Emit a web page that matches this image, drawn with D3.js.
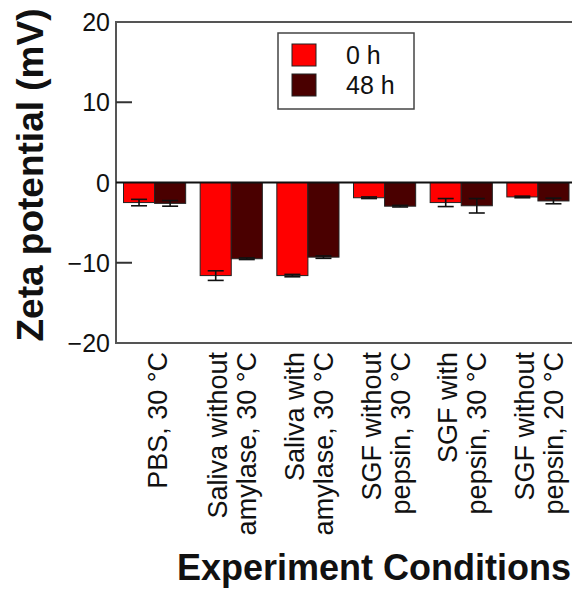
<!DOCTYPE html>
<html>
<head>
<meta charset="utf-8">
<script src="https://cdn.jsdelivr.net/npm/d3@7"></script>
<style>
  body { margin: 0; background: #fff; }
  svg { display: block; font-family: "Liberation Sans", Arial, sans-serif; }
</style>
</head>
<body>
<svg id="chart" width="572" height="589"></svg>
<script>
// data
var categories = [
    ['PBS, 30 °C'],
    ['Saliva without', 'amylase, 30 °C'],
    ['Saliva with', 'amylase, 30 °C'],
    ['SGF without', 'pepsin, 30 °C'],
    ['SGF with', 'pepsin, 30 °C'],
    ['SGF without', 'pepsin, 20 °C']
];
var seriesNames = ['0 h', '48 h'];
var values0h = [-2.5, -11.6, -11.6, -1.9, -2.5, -1.8];
var errors0h = [0.4, 0.6, 0.15, 0.1, 0.5, 0.1];
var values48h = [-2.6, -9.5, -9.3, -2.95, -2.9, -2.3];
var errors48h = [0.35, 0.1, 0.15, 0.1, 0.9, 0.35];
var yTicks = [-20, -10, 0, 10, 20];

var colors = ['#ff0000', '#4a0000'];
var svg = d3.select('#chart');

var plotLeft = 116, plotRight = 576, plotTop = 22, plotBottom = 343;

var rows = categories.map(function(c, i) {
    return {
        key: c.join(' '),
        lines: c,
        bars: [
            { s: seriesNames[0], v: values0h[i], e: errors0h[i] },
            { s: seriesNames[1], v: values48h[i], e: errors48h[i] }
        ]
    };
});

var x0 = d3.scaleBand().domain(rows.map(function(d) { return d.key; })).range([plotLeft, plotRight]);
var x1 = d3.scaleBand().domain(seriesNames).range([7.5, x0.bandwidth() - 7]);
var y = d3.scaleLinear().domain([-20, 20]).range([plotBottom, plotTop]);

// frame (left, top, bottom)
svg.append('path')
    .attr('d', 'M' + plotRight + ',' + plotTop + 'H' + plotLeft + 'V' + plotBottom + 'H' + plotRight)
    .attr('fill', 'none').attr('stroke', '#555').attr('stroke-width', 2);

// inward ticks
svg.selectAll('.tick').data([-10, 10]).enter().append('line')
    .attr('x1', plotLeft).attr('x2', plotLeft + 16)
    .attr('y1', function(d) { return y(d); }).attr('y2', function(d) { return y(d); })
    .attr('stroke', '#333').attr('stroke-width', 2);

svg.selectAll('.ylab').data(yTicks).enter().append('text')
    .attr('x', 110).attr('y', function(d) { return y(d); })
    .attr('dy', '0.36em').attr('text-anchor', 'end')
    .attr('font-size', 25).attr('fill', '#111')
    .text(function(d) { return d < 0 ? '\u2212' + Math.abs(d) : d; });

// bars
var groups = svg.selectAll('.grp').data(rows).enter().append('g')
    .attr('transform', function(d) { return 'translate(' + x0(d.key) + ',0)'; });

groups.selectAll('rect').data(function(d) { return d.bars; }).enter().append('rect')
    .attr('x', function(d) { return x1(d.s); })
    .attr('width', x1.bandwidth())
    .attr('y', function(d) { return y(Math.max(0, d.v)); })
    .attr('height', function(d) { return Math.abs(y(d.v) - y(0)); })
    .attr('fill', function(d, i) { return colors[i]; })
    .attr('stroke', '#222').attr('stroke-width', 1);

// error bars
var eb = groups.selectAll('.err').data(function(d) { return d.bars; }).enter().append('g')
    .attr('stroke', '#111').attr('stroke-width', 1.6);
eb.append('line')
    .attr('x1', function(d) { return x1(d.s) + x1.bandwidth() / 2; })
    .attr('x2', function(d) { return x1(d.s) + x1.bandwidth() / 2; })
    .attr('y1', function(d) { return y(d.v + d.e); })
    .attr('y2', function(d) { return y(d.v - d.e); });
[1, -1].forEach(function(sign) {
    eb.append('line')
        .attr('x1', function(d) { return x1(d.s) + x1.bandwidth() / 2 - 8; })
        .attr('x2', function(d) { return x1(d.s) + x1.bandwidth() / 2 + 8; })
        .attr('y1', function(d) { return y(d.v + sign * d.e); })
        .attr('y2', function(d) { return y(d.v + sign * d.e); });
});

// zero line
svg.append('line')
    .attr('x1', plotLeft).attr('x2', plotRight).attr('y1', y(0)).attr('y2', y(0))
    .attr('stroke', '#111').attr('stroke-width', 2);

// category labels, rotated
var lineGap = 29;
rows.forEach(function(d) {
    var cx = x0(d.key) + x0.bandwidth() / 2;
    var n = d.lines.length;
    d.lines.forEach(function(t, j) {
        var off = (j - (n - 1) / 2) * lineGap + (n === 1 ? 3 : 1);
        svg.append('text')
            .attr('transform', 'translate(' + (cx + off) + ',352) rotate(-90)')
            .attr('dy', '0.36em').attr('text-anchor', 'end')
            .attr('font-size', 27).attr('fill', '#111')
            .text(t);
    });
});

// legend
var lg = svg.append('g').attr('transform', 'translate(278,33)');
lg.append('rect').attr('width', 136).attr('height', 76)
    .attr('fill', '#fff').attr('stroke', '#444').attr('stroke-width', 1.5);
seriesNames.forEach(function(s, i) {
    lg.append('rect').attr('x', 14).attr('y', 11 + i * 30).attr('width', 24).attr('height', 22)
        .attr('fill', colors[i]).attr('stroke', '#222').attr('stroke-width', 1);
    lg.append('text').attr('x', 68).attr('y', 22 + i * 30).attr('dy', '0.36em')
        .attr('font-size', 25).attr('fill', '#111').text(s);
});

// axis titles
svg.append('text')
    .attr('transform', 'translate(30,175) rotate(-90)')
    .attr('dy', '0.36em').attr('text-anchor', 'middle')
    .attr('font-size', 37).attr('font-weight', 'bold').attr('fill', '#111')
    .text('Zeta potential (mV)');

svg.append('text')
    .attr('x', 374).attr('y', 580).attr('text-anchor', 'middle')
    .attr('font-size', 36).attr('font-weight', 'bold').attr('fill', '#111')
    .text('Experiment Conditions');
</script>
</body>
</html>
